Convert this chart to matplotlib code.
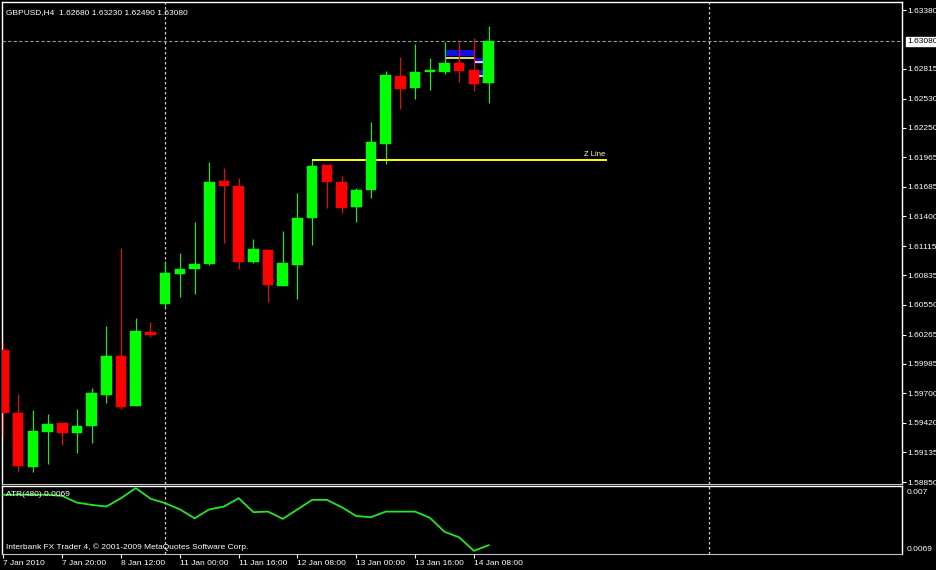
import matplotlib
matplotlib.use("Agg")
import matplotlib.pyplot as plt
from matplotlib.patches import Rectangle

# GBPUSD H4 candles
opens = [1.60117, 1.59512, 1.58994, 1.59330, 1.59417, 1.59321, 1.59388, 1.59685,
         1.60060, 1.59580, 1.60290, 1.60559, 1.60846, 1.60894, 1.60942, 1.61739,
         1.61691, 1.60962, 1.61077, 1.60731, 1.60933, 1.61384, 1.61893, 1.61729,
         1.61489, 1.61653, 1.62094, 1.62747, 1.62632, 1.62785, 1.62785, 1.62871,
         1.62804, 1.62680]
highs = [1.60184, 1.59695, 1.59541, 1.59503, 1.59420, 1.59551, 1.59752, 1.60347,
         1.61096, 1.60424, 1.60386, 1.60971, 1.61048, 1.61346, 1.61921, 1.61864,
         1.61768, 1.61182, 1.61080, 1.61259, 1.61624, 1.61941, 1.61893, 1.61787,
         1.61672, 1.62305, 1.62795, 1.62929, 1.63054, 1.62919, 1.63073, 1.63073,
         1.63111, 1.63230]
lows = [1.59282, 1.58956, 1.58946, 1.59023, 1.59205, 1.59129, 1.59225, 1.59608,
        1.59551, 1.59580, 1.60242, 1.60520, 1.60626, 1.60655, 1.60933, 1.61144,
        1.60894, 1.60952, 1.60578, 1.60731, 1.60607, 1.61125, 1.61480, 1.61432,
        1.61346, 1.61576, 1.61902, 1.62430, 1.62526, 1.62612, 1.62766, 1.62689,
        1.62603, 1.62490]
closes = [1.59512, 1.59004, 1.59340, 1.59407, 1.59321, 1.59388, 1.59704, 1.60060,
          1.59570, 1.60299, 1.60261, 1.60856, 1.60894, 1.60942, 1.61729, 1.61691,
          1.60962, 1.61086, 1.60741, 1.60952, 1.61384, 1.61883, 1.61729, 1.61480,
          1.61653, 1.62113, 1.62756, 1.62622, 1.62785, 1.62804, 1.62871, 1.62795,
          1.62670, 1.63080]

atr = [0.006995, 0.006995, 0.006995, 0.006995, 0.006993, 0.006981, 0.006977, 0.006974,
       0.006989, 0.007007, 0.006988, 0.006980, 0.006969, 0.006953, 0.006969, 0.006974,
       0.006989, 0.006964, 0.006965, 0.006952, 0.006969, 0.006986, 0.006986, 0.006973,
       0.006957, 0.006955, 0.006965, 0.006965, 0.006965, 0.006954, 0.006929, 0.006919,
       0.006895, 0.006905]

price_ticks = [1.63380, 1.62815, 1.62530, 1.62250, 1.61965, 1.61685, 1.61400, 1.61115,
               1.60835, 1.60550, 1.60265, 1.59985, 1.59700, 1.59420, 1.59135, 1.58850]
time_ticks = [0, 4, 8, 12, 16, 20, 24, 28, 32]
time_labels = ["7 Jan 2010", "7 Jan 20:00", "8 Jan 12:00", "11 Jan 00:00", "11 Jan 16:00",
               "12 Jan 08:00", "13 Jan 00:00", "13 Jan 16:00", "14 Jan 08:00"]
separators = [11, 48]
bid = 1.63080
z_level = 1.61940
z_start, z_end = 21, 41.05
# order boxes: (bar from, bar to, low, high, line level)
boxes = [(30.1, 32.0, 1.62939, 1.62996, 1.62922),
         (32.0, 33.0, 1.62862, 1.62919, 1.62881),
         (32.3, 33.0, 1.62737, 1.62804, 1.62747)]

FONT = "Liberation Sans"
BULL = "#00ff00"
BEAR = "#ff0000"

fig = plt.figure(figsize=(9.37, 5.70), dpi=100, facecolor="black")
ax = fig.add_axes([2/937, 86/570, 900/937, 482/570], facecolor="black")
ax2 = fig.add_axes([2/937, 16/570, 900/937, 68/570], facecolor="black", sharex=ax)

n = len(opens)
xs = list(range(n))

for a in (ax, ax2):
    for s in separators:
        a.axvline(s, color="#d0d0d0", lw=0.9, linestyle=(0, (2, 2)), zorder=1)

ax.axhline(bid, color="#9a9a9a", lw=0.8, linestyle=(0, (3, 2)), zorder=1)

# order boxes behind candles
for x0, x1, lo, hi, lvl in boxes:
    ax.add_patch(Rectangle((x0, lo), x1 - x0, hi - lo, facecolor="#1010e0",
                           edgecolor="none", zorder=2))
    ax.hlines(lvl, x0, x1, color="#ffffa0", lw=1.2, zorder=2)

# candles
for i in xs:
    o, h, l, c = opens[i], highs[i], lows[i], closes[i]
    col = BULL if c >= o else BEAR
    ax.vlines(i, l, h, color=col, lw=0.8, zorder=3)
    bottom = min(o, c)
    height = max(abs(c - o), 0.00002)
    ax.bar(i, height, bottom=bottom, width=0.72, color=col, edgecolor=col,
           linewidth=0.3, zorder=4)

# Z line
ax.hlines(z_level, z_start, z_end, color="#ffff00", lw=1.4, zorder=3)
ax.text(z_end - 0.1, z_level + 0.0002, "Z Line", color="#ffffd0", fontsize=5.5,
        family=FONT, ha="right", va="bottom")

ax.set_xlim(-0.1, 61.12)
ax.set_ylim(1.58831, 1.63457)

ax.yaxis.tick_right()
ax.set_yticks(price_ticks)
ax.set_yticklabels([f"{p:.5f}" for p in price_ticks])
ax.tick_params(axis="y", colors="white", labelsize=6, length=3, width=0.8, pad=1)
for lab in ax.get_yticklabels():
    lab.set_family(FONT)
ax.tick_params(axis="x", bottom=False, labelbottom=False)

# bid label
ax.annotate(f"{bid:.5f}", xy=(1.0, bid), xycoords=("axes fraction", "data"),
            xytext=(4, 0), textcoords="offset points", ha="left", va="center",
            fontsize=6, family=FONT, color="black",
            bbox=dict(boxstyle="square,pad=0.15", fc="white", ec="white"))

ax.text(0.004, 0.985, f"GBPUSD,H4  {opens[-1]:.5f} {highs[-1]:.5f} {lows[-1]:.5f} {closes[-1]:.5f}",
        transform=ax.transAxes, color="white", fontsize=6, family=FONT, va="top")

for side in ("top", "left", "right"):
    ax.spines[side].set_color("white")
    ax.spines[side].set_linewidth(1.0)
ax.spines["bottom"].set_color("#c0c0c0")
ax.spines["bottom"].set_linestyle((0, (2, 1)))
ax.spines["bottom"].set_linewidth(0.8)

# ATR panel
ax2.plot(xs, atr, color="#22e822", lw=1.3, zorder=3)
ax2.set_ylim(0.0068893, 0.0070107)
ax2.yaxis.tick_right()
ax2.set_yticks([0.007, 0.0069])
ax2.set_yticklabels(["0.007", "0.0069"])
ax2.tick_params(axis="y", colors="white", labelsize=6, length=0, pad=3)
for lab in ax2.get_yticklabels():
    lab.set_family(FONT)

ax2.set_xticks(time_ticks)
ax2.set_xticklabels(time_labels)
ax2.tick_params(axis="x", colors="white", labelsize=6, length=3, width=0.8, pad=1)
for lab in ax2.get_xticklabels():
    lab.set_family(FONT)
    lab.set_horizontalalignment("left")

ax2.text(0.004, 0.93, f"ATR(480) {atr[-1]:.4f}", transform=ax2.transAxes,
         color="white", fontsize=6, family=FONT, va="top")
ax2.text(0.004, 0.05, "Interbank FX Trader 4, \u00a9 2001-2009 MetaQuotes Software Corp.",
         transform=ax2.transAxes, color="white", fontsize=6, family=FONT, va="bottom")

for side in ("top", "left", "right"):
    ax2.spines[side].set_color("white")
    ax2.spines[side].set_linewidth(1.0)
ax2.spines["bottom"].set_color("#c0c0c0")
ax2.spines["bottom"].set_linestyle((0, (2, 1)))
ax2.spines["bottom"].set_linewidth(0.8)

fig.savefig("out.png", dpi=100, facecolor="black")
